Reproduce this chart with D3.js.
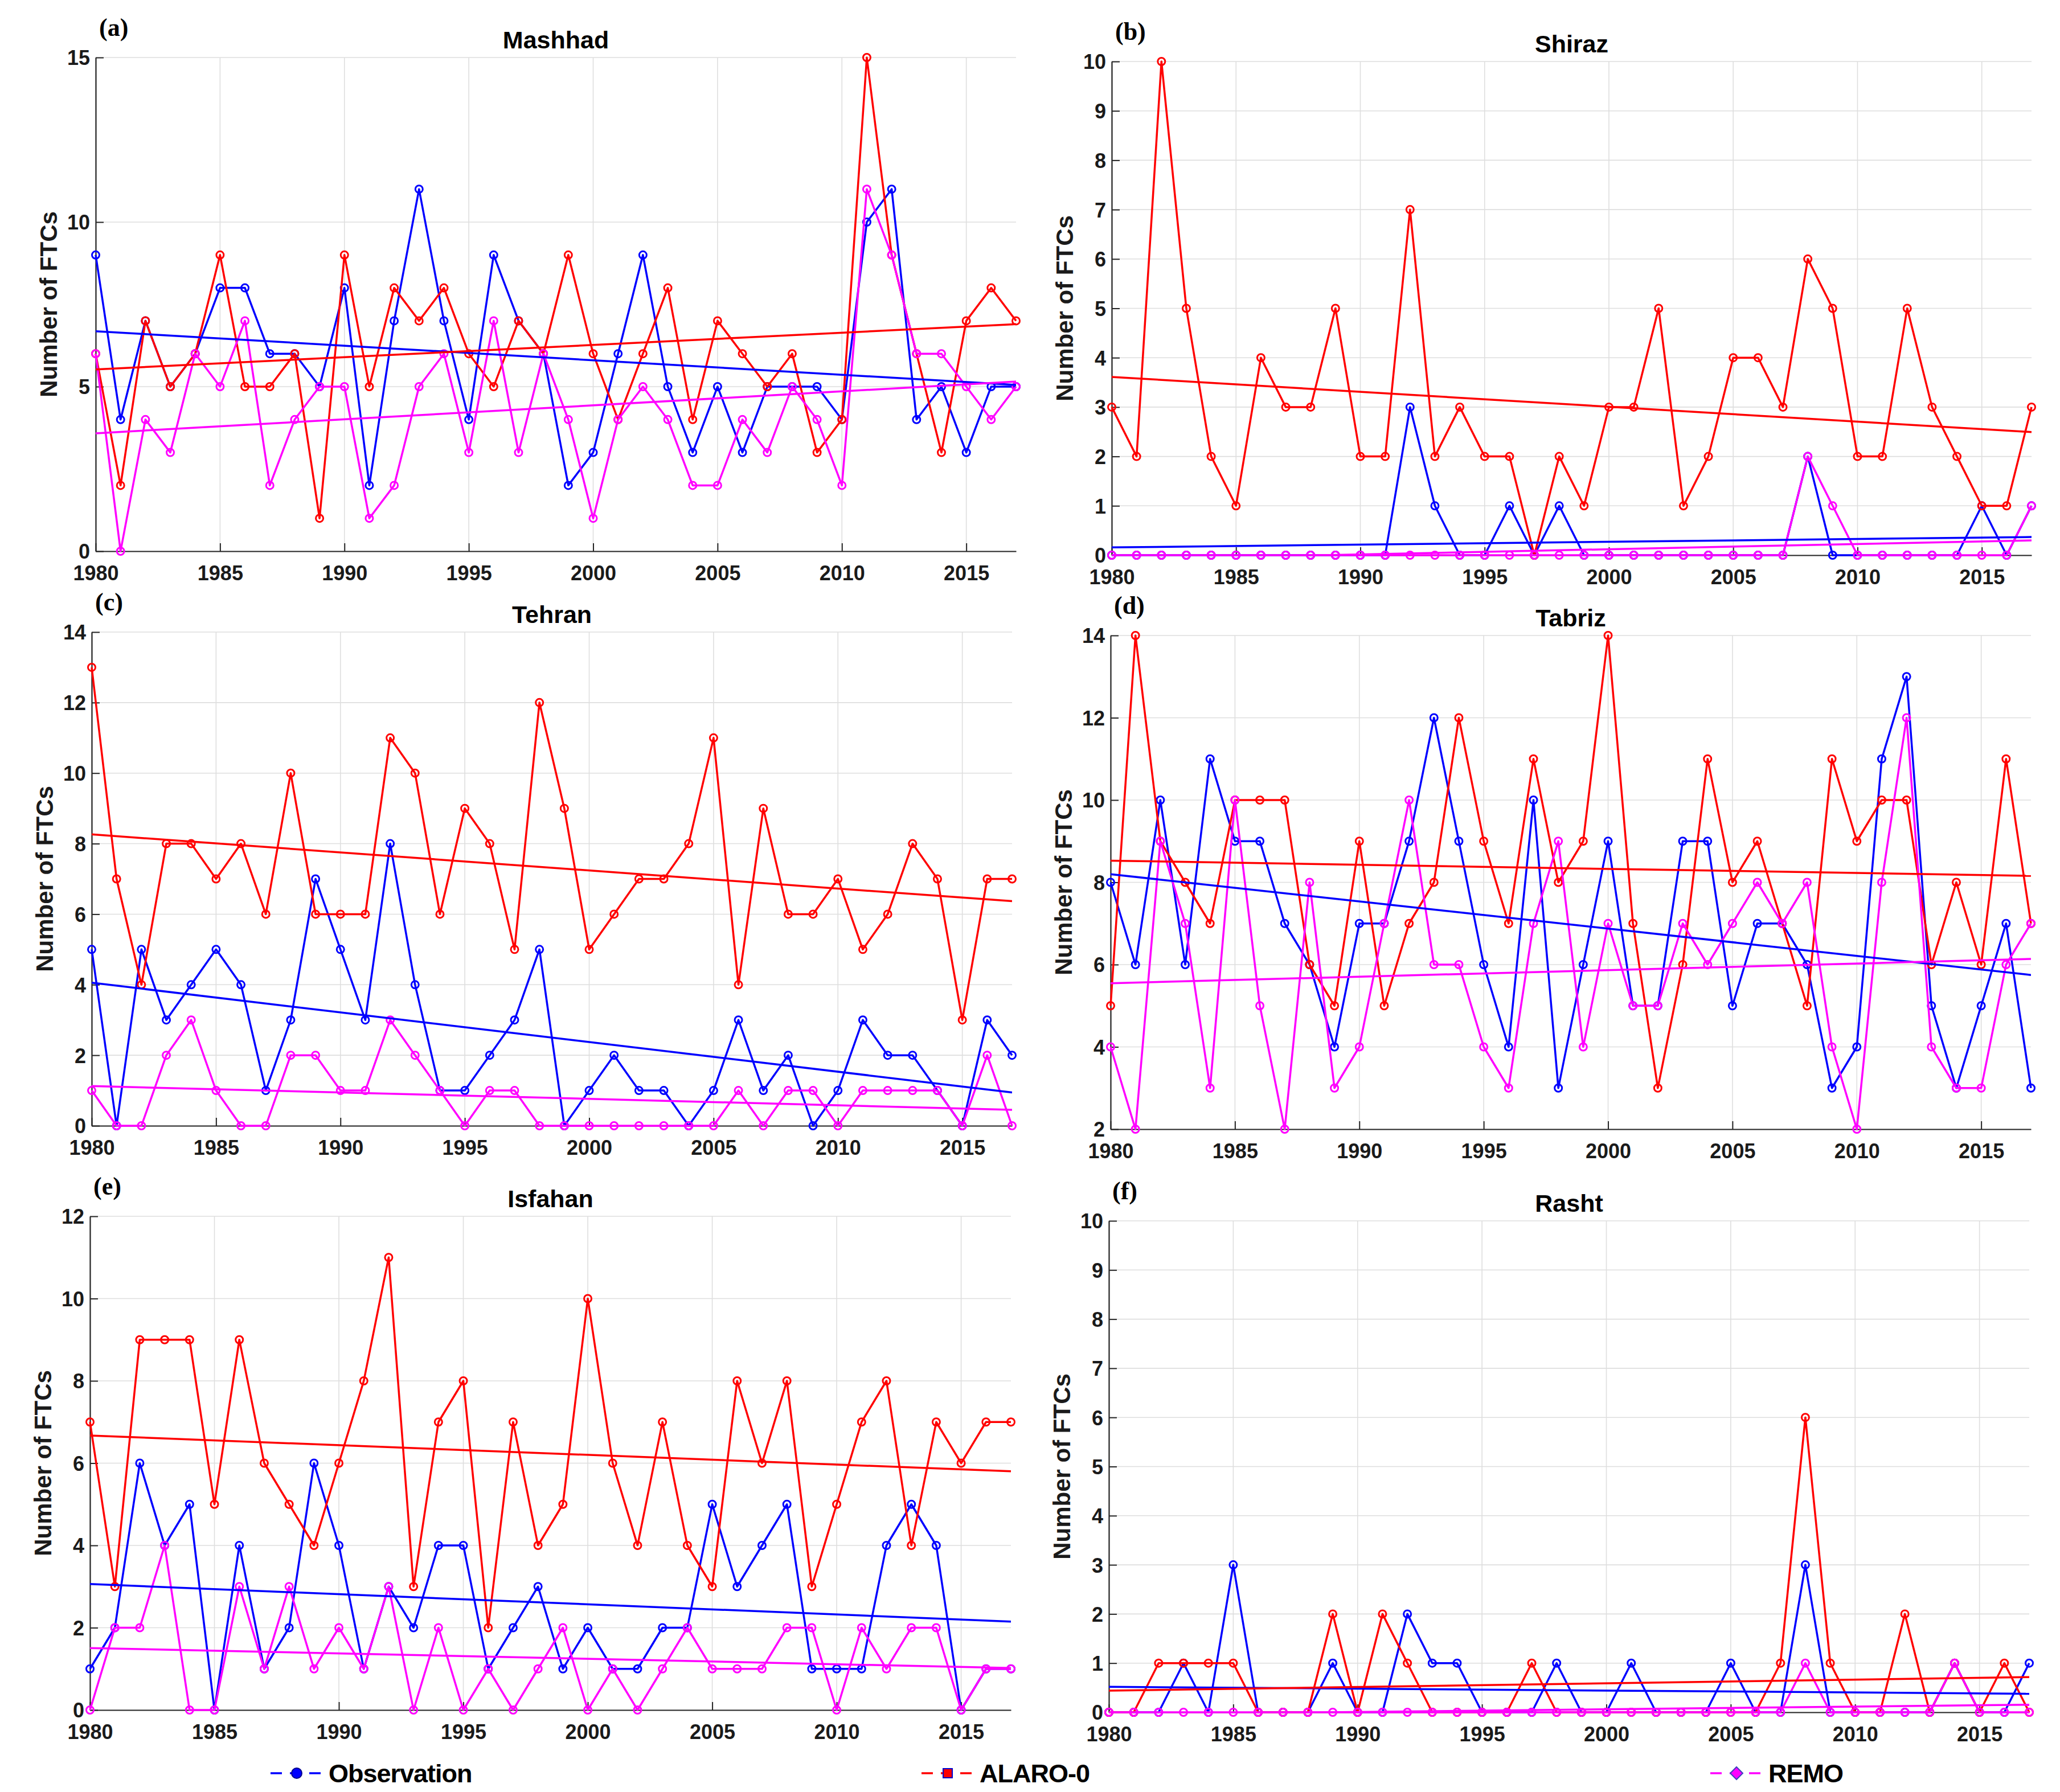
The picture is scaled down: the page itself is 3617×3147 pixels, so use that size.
<!DOCTYPE html>
<html lang="en">
<head>
<meta charset="utf-8">
<title>Number of FTCs</title>
<script src="https://d3js.org/d3.v7.min.js"></script>
<style>
  body { margin: 0; background: #fff; }
</style>
</head>
<body>
<script>
// years on the x axis
var years = d3.range(1980, 2018);
var xTicks = [1980, 1985, 1990, 1995, 2000, 2005, 2010, 2015];

// (a) Mashhad
var mashhadObs   = [9,4,7,5,6,8,8,6,6,5,8,2,7,11,7,4,9,7,6,2,3,6,9,5,3,5,3,5,5,5,4,10,11,4,5,3,5,5];
var mashhadAlaro = [6,2,7,5,6,9,5,5,6,1,9,5,8,7,8,6,5,7,6,9,6,4,6,8,4,7,6,5,6,3,4,15,9,6,3,7,8,7];
var mashhadRemo  = [6,0,4,3,6,5,7,2,4,5,5,1,2,5,6,3,7,3,6,4,1,4,5,4,2,2,4,3,5,4,2,11,9,6,6,5,4,5];

// (b) Shiraz
var shirazObs   = [0,0,0,0,0,0,0,0,0,0,0,0,3,1,0,0,1,0,1,0,0,0,0,0,0,0,0,0,2,0,0,0,0,0,0,1,0,1];
var shirazAlaro = [3,2,10,5,2,1,4,3,3,5,2,2,7,2,3,2,2,0,2,1,3,3,5,1,2,4,4,3,6,5,2,2,5,3,2,1,1,3];
var shirazRemo  = [0,0,0,0,0,0,0,0,0,0,0,0,0,0,0,0,0,0,0,0,0,0,0,0,0,0,0,0,2,1,0,0,0,0,0,0,0,1];

// (c) Tehran
var tehranObs   = [5,0,5,3,4,5,4,1,3,7,5,3,8,4,1,1,2,3,5,0,1,2,1,1,0,1,3,1,2,0,1,3,2,2,1,0,3,2];
var tehranAlaro = [13,7,4,8,8,7,8,6,10,6,6,6,11,10,6,9,8,5,12,9,5,6,7,7,8,11,4,9,6,6,7,5,6,8,7,3,7,7];
var tehranRemo  = [1,0,0,2,3,1,0,0,2,2,1,1,3,2,1,0,1,1,0,0,0,0,0,0,0,0,1,0,1,1,0,1,1,1,1,0,2,0];

// (d) Tabriz
var tabrizObs   = [8,6,10,6,11,9,9,7,6,4,7,7,9,12,9,6,4,10,3,6,9,5,5,9,9,5,7,7,6,3,4,11,13,5,3,5,7,3];
var tabrizAlaro = [5,14,9,8,7,10,10,10,6,5,9,5,7,8,12,9,7,11,8,9,14,7,3,6,11,8,9,7,5,11,9,10,10,6,8,6,11,7];
var tabrizRemo  = [4,2,9,7,3,10,5,2,8,3,4,7,10,6,6,4,3,7,9,4,7,5,5,7,6,7,8,7,8,4,2,8,12,4,3,3,6,7];

// (e) Isfahan
var isfahanObs   = [1,2,6,4,5,0,4,1,2,6,4,1,3,2,4,4,1,2,3,1,2,1,1,2,2,5,3,4,5,1,1,1,4,5,4,0,1,1];
var isfahanAlaro = [7,3,9,9,9,5,9,6,5,4,6,8,11,3,7,8,2,7,4,5,10,6,4,7,4,3,8,6,8,3,5,7,8,4,7,6,7,7];
var isfahanRemo  = [0,2,2,4,0,0,3,1,3,1,2,1,3,0,2,0,1,0,1,2,0,1,0,1,2,1,1,1,2,2,0,2,1,2,2,0,1,1];

// (f) Rasht
var rashtObs   = [0,0,0,1,0,3,0,0,0,1,0,0,2,1,1,0,0,0,1,0,0,1,0,0,0,1,0,0,3,0,0,0,0,0,1,0,0,1];
var rashtAlaro = [0,0,1,1,1,1,0,0,0,2,0,2,1,0,0,0,0,1,0,0,0,0,0,0,0,0,0,1,6,1,0,0,2,0,1,0,1,0];
var rashtRemo  = [0,0,0,0,0,0,0,0,0,0,0,0,0,0,0,0,0,0,0,0,0,0,0,0,0,0,0,0,1,0,0,0,0,0,1,0,0,0];

var stations = ["Mashhad", "Shiraz", "Tehran", "Tabriz", "Isfahan", "Rasht"];
var letters  = ["(a)", "(b)", "(c)", "(d)", "(e)", "(f)"];
var yDomains = [[0, 15], [0, 10], [0, 14], [2, 14], [0, 12], [0, 10]];
var yTicks = [
  [0, 5, 10, 15],
  [0, 1, 2, 3, 4, 5, 6, 7, 8, 9, 10],
  [0, 2, 4, 6, 8, 10, 12, 14],
  [2, 4, 6, 8, 10, 12, 14],
  [0, 2, 4, 6, 8, 10, 12],
  [0, 1, 2, 3, 4, 5, 6, 7, 8, 9, 10]
];
var seriesNames  = ["Observation", "ALARO-0", "REMO"];
var seriesColors = ["#0000ff", "#ff0000", "#ff00ff"];
var panelSeries = [
  [mashhadObs, mashhadAlaro, mashhadRemo],
  [shirazObs, shirazAlaro, shirazRemo],
  [tehranObs, tehranAlaro, tehranRemo],
  [tabrizObs, tabrizAlaro, tabrizRemo],
  [isfahanObs, isfahanAlaro, isfahanRemo],
  [rashtObs, rashtAlaro, rashtRemo]
];

// plot boxes in page pixels
var frames = [
  {x0: 168,  x1: 1784, y0: 101,  y1: 968},
  {x0: 1952, x1: 3567, y0: 108,  y1: 975},
  {x0: 161,  x1: 1777, y0: 1110, y1: 1977},
  {x0: 1950, x1: 3566, y0: 1116, y1: 1983},
  {x0: 158,  x1: 1775, y0: 2136, y1: 3003},
  {x0: 1947, x1: 3563, y0: 2144, y1: 3007}
];

var W = 3617, H = 3147;
var font = "'Liberation Sans', Arial, Helvetica, sans-serif";
var axisColor = "#262626";
var gridColor = "#dedede";

var svg = d3.select("body").append("svg")
  .attr("width", W)
  .attr("height", H)
  .style("display", "block");

svg.append("rect").attr("width", W).attr("height", H).attr("fill", "#fff");

// least squares line over the whole period
function trend(vals) {
  var mx = d3.mean(years), my = d3.mean(vals);
  var sxy = d3.sum(years, function (x, i) { return (x - mx) * (vals[i] - my); });
  var sxx = d3.sum(years, function (x) { return (x - mx) * (x - mx); });
  var b = sxy / sxx, a = my - b * mx;
  return [[years[0], a + b * years[0]], [years[years.length - 1], a + b * years[years.length - 1]]];
}

frames.forEach(function (f, p) {
  var x = d3.scaleLinear().domain([1980, 2017]).range([f.x0, f.x1]);
  var y = d3.scaleLinear().domain(yDomains[p]).range([f.y1, f.y0]);
  var g = svg.append("g");

  // grid
  g.selectAll(".vg").data(xTicks).enter().append("line")
    .attr("x1", function (d) { return x(d); }).attr("x2", function (d) { return x(d); })
    .attr("y1", f.y0).attr("y2", f.y1)
    .attr("stroke", gridColor).attr("stroke-width", 1.6);
  g.selectAll(".hg").data(yTicks[p]).enter().append("line")
    .attr("x1", f.x0).attr("x2", f.x1)
    .attr("y1", function (d) { return y(d); }).attr("y2", function (d) { return y(d); })
    .attr("stroke", gridColor).attr("stroke-width", 1.6);

  // axes with inward ticks
  var xAxis = d3.axisBottom(x).tickValues(xTicks).tickFormat(d3.format("d")).tickSizeInner(-14).tickSizeOuter(0).tickPadding(25);
  var yAxis = d3.axisLeft(y).tickValues(yTicks[p]).tickFormat(d3.format("d")).tickSizeInner(-14).tickSizeOuter(0).tickPadding(24);

  var gx = g.append("g").attr("transform", "translate(0," + f.y1 + ")").call(xAxis);
  var gy = g.append("g").attr("transform", "translate(" + f.x0 + ",0)").call(yAxis);
  [gx, gy].forEach(function (ax) {
    ax.select(".domain").attr("stroke", axisColor).attr("stroke-width", 2.2);
    ax.selectAll(".tick line").attr("stroke", axisColor).attr("stroke-width", 2);
    ax.selectAll("text")
      .attr("fill", "#1a1a1a")
      .style("font-family", font)
      .style("font-weight", "bold")
      .style("font-size", "36px");
  });
  gx.selectAll("text").attr("dy", "0.71em");
  gy.selectAll("text").attr("x", -10).attr("dy", "0.36em");

  // clip for trend lines
  var cid = "clip" + p;
  svg.append("clipPath").attr("id", cid).append("rect")
    .attr("x", f.x0).attr("y", f.y0).attr("width", f.x1 - f.x0).attr("height", f.y1 - f.y0);

  var line = d3.line()
    .x(function (d) { return x(d[0]); })
    .y(function (d) { return y(d[1]); });

  panelSeries[p].forEach(function (vals, s) {
    var pts = years.map(function (yr, i) { return [yr, vals[i]]; });
    g.append("path").datum(pts)
      .attr("d", line)
      .attr("fill", "none")
      .attr("stroke", seriesColors[s])
      .attr("stroke-width", 3.5)
      .attr("stroke-linejoin", "round");
    g.selectAll(".m" + s).data(pts).enter().append("circle")
      .attr("cx", function (d) { return x(d[0]); })
      .attr("cy", function (d) { return y(d[1]); })
      .attr("r", 6.5)
      .attr("fill", "none")
      .attr("stroke", seriesColors[s])
      .attr("stroke-width", 3);
  });

  panelSeries[p].forEach(function (vals, s) {
    g.append("path").datum(trend(vals))
      .attr("d", line)
      .attr("clip-path", "url(#" + cid + ")")
      .attr("fill", "none")
      .attr("stroke", seriesColors[s])
      .attr("stroke-width", 3.5);
  });

  // title, panel letter, y label
  g.append("text")
    .attr("x", (f.x0 + f.x1) / 2).attr("y", f.y0 - 16)
    .attr("text-anchor", "middle")
    .style("font-family", font).style("font-weight", "bold").style("font-size", "43px")
    .text(stations[p]);
  g.append("text")
    .attr("x", f.x0 + 6).attr("y", f.y0 - 38)
    .style("font-family", "'Liberation Serif', 'Times New Roman', serif")
    .style("font-weight", "bold").style("font-size", "44px")
    .text(letters[p]);
  g.append("text")
    .attr("transform", "translate(" + (f.x0 - 68) + "," + ((f.y0 + f.y1) / 2) + ") rotate(-90)")
    .attr("text-anchor", "middle")
    .attr("fill", "#1a1a1a")
    .style("font-family", font).style("font-weight", "bold").style("font-size", "42px")
    .text("Number of FTCs");
});

// legend along the bottom
var legendX = [475, 1618, 3003];
var legendY = 3114;
var lg = svg.append("g");
seriesNames.forEach(function (name, s) {
  var lx = legendX[s];
  lg.append("line")
    .attr("x1", lx).attr("x2", lx + 92)
    .attr("y1", legendY).attr("y2", legendY)
    .attr("stroke", seriesColors[s]).attr("stroke-width", 3.5)
    .attr("stroke-dasharray", "20,14");
  var cx = lx + 46;
  if (s === 0) {
    lg.append("circle").attr("cx", cx).attr("cy", legendY).attr("r", 9)
      .attr("fill", "#0000ff").attr("stroke", "#00008b").attr("stroke-width", 2);
  } else if (s === 1) {
    lg.append("rect").attr("x", cx - 8).attr("y", legendY - 8).attr("width", 16).attr("height", 16)
      .attr("fill", "#ff0000").attr("stroke", "#0000cc").attr("stroke-width", 2);
  } else {
    lg.append("path")
      .attr("d", "M" + cx + "," + (legendY - 11) + "L" + (cx + 11) + "," + legendY + "L" + cx + "," + (legendY + 11) + "L" + (cx - 11) + "," + legendY + "Z")
      .attr("fill", "#ff00ff").attr("stroke", "#4040c0").attr("stroke-width", 2);
  }
  lg.append("text")
    .attr("x", lx + 102).attr("y", legendY).attr("dy", "0.36em")
    .style("font-family", font).style("font-weight", "bold").style("font-size", "45px")
    .style("letter-spacing", "-1px")
    .text(name);
});
</script>
</body>
</html>
